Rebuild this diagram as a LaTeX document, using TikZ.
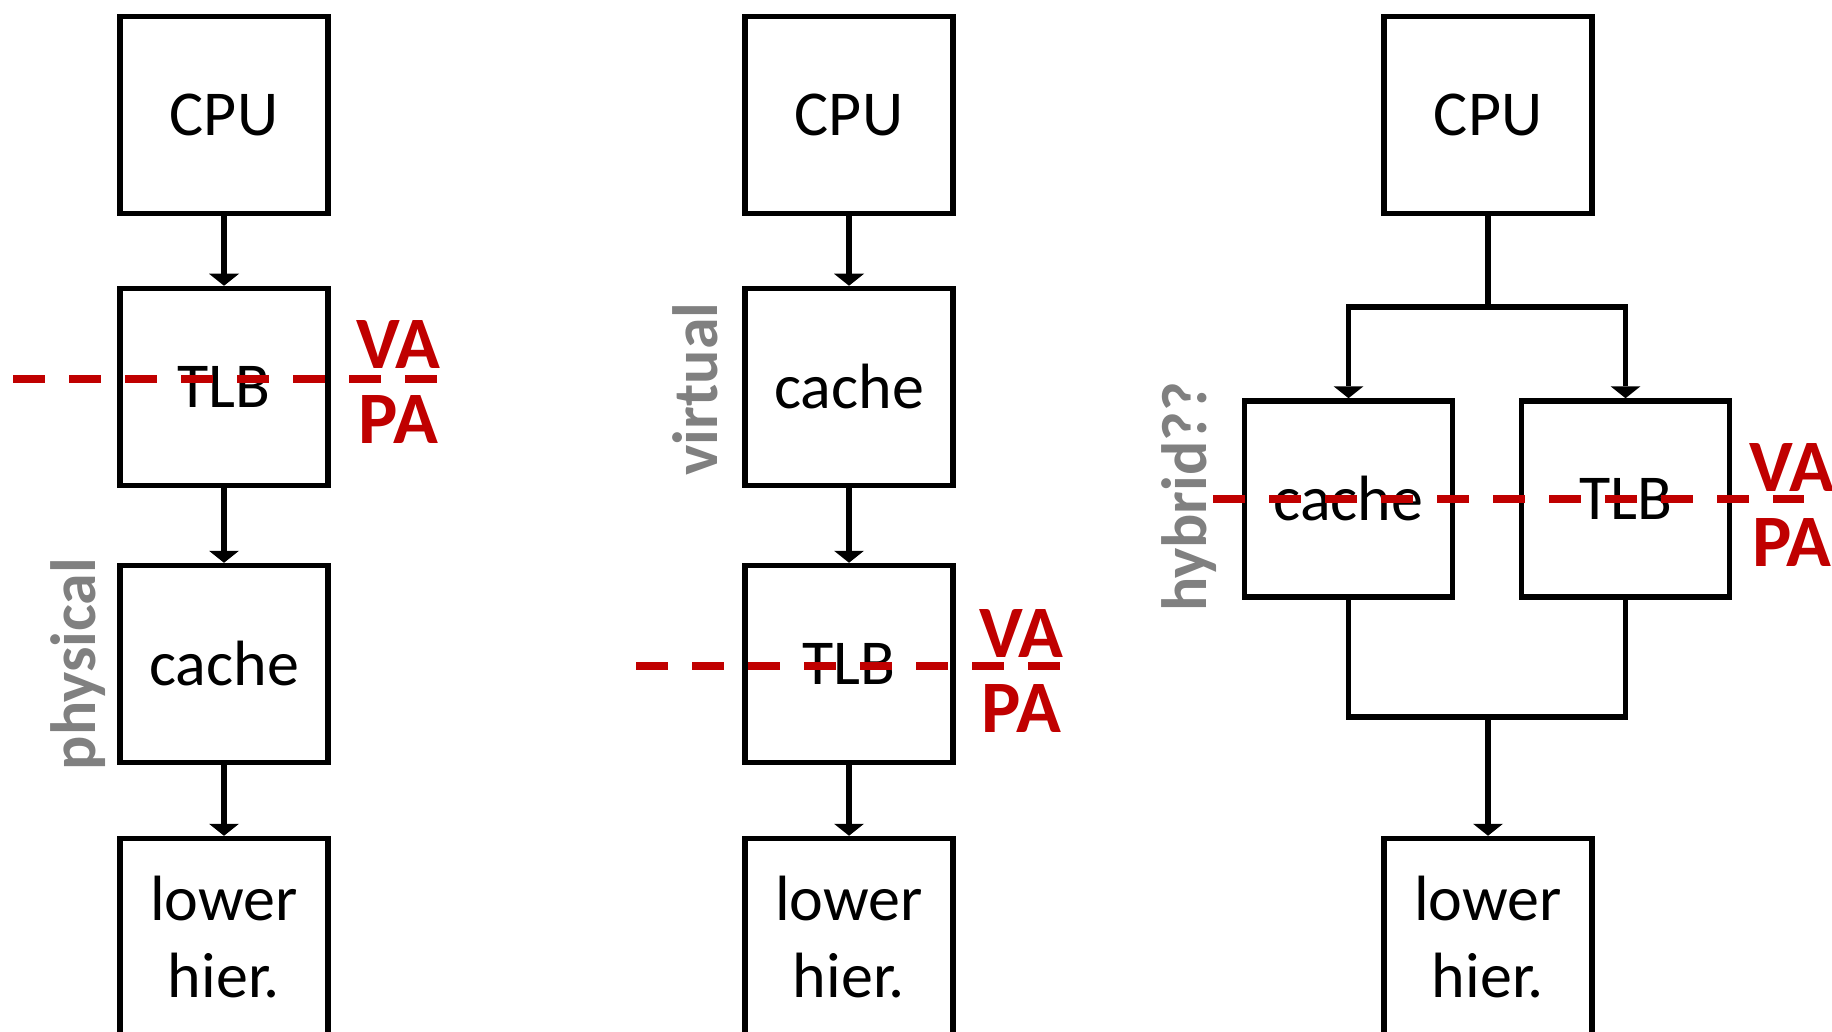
\documentclass[tikz,border=0pt]{standalone}
\usepackage{fontspec}
\setmainfont{Carlito}
\usetikzlibrary{arrows.meta}
\definecolor{vared}{HTML}{C00000}
\definecolor{sidegray}{HTML}{808080}
\tikzset{
  unit/.style={draw, line width=5.5pt, minimum width=208pt, minimum height=197pt,
    inner sep=0pt, align=center, font=\fontsize{64}{77}\selectfont},
  wire/.style={line width=5.5pt},
  feed/.style={wire, -{Triangle[width=30pt,length=12pt,line width=0pt]}},
  cut/.style={draw=vared, line width=8pt, dash pattern=on 32pt off 24pt},
  vapa/.style={text=vared, inner sep=0pt, align=center,
    font=\fontsize{74}{75}\selectfont\bfseries},
  kind/.style={text=sidegray, inner sep=0pt, rotate=90,
    font=\fontsize{64}{72}\selectfont\bfseries},
}
\begin{document}
\begin{tikzpicture}[x=1pt,y=-1pt]
\useasboundingbox (0,0) rectangle (1832,1032);
\begin{scope}[shift={(224,0)}]
\node[unit] (cpuA) at (0,115) {CPU};
\node[unit] (tlbA) at (0,387) {TLB};
\node[unit] (cacheA) at (0,664) {cache};
\node[unit] (lowA) at (0,937) {lower\\hier.};
\draw[feed] (cpuA) -- (tlbA);
\draw[feed] (tlbA) -- (cacheA);
\draw[feed] (cacheA) -- (lowA);
\draw[cut] (-211,379) -- (213,379);
\node[vapa] (vaA) at (174.5,382.5) {VA\\PA};
\node[kind] (kindA) at (-146,664) {physical};
\end{scope}
\begin{scope}[shift={(849,0)}]
\node[unit] (cpuB) at (0,115) {CPU};
\node[unit] (cacheB) at (0,387) {cache};
\node[unit] (tlbB) at (0,664) {TLB};
\node[unit] (lowB) at (0,937) {lower\\hier.};
\draw[feed] (cpuB) -- (cacheB);
\draw[feed] (cacheB) -- (tlbB);
\draw[feed] (tlbB) -- (lowB);
\draw[cut] (-213,666) -- (211,666);
\node[vapa] (vaB) at (172.5,671) {VA\\PA};
\node[kind] (kindB) at (-153.5,389) {virtual};
\end{scope}
\begin{scope}[shift={(1488,0)}]
\node[unit] (cpuC) at (0,115) {CPU};
\node[unit, minimum height=196pt] (cacheC) at (-139.5,499) {cache};
\node[unit, minimum height=196pt] (tlbC) at (137.5,499) {TLB};
\node[unit] (lowC) at (0,937) {lower\\hier.};
\coordinate (forkC) at (0,307);
\coordinate (joinC) at (0,717);
\draw[wire] (cpuC) -- (forkC);
\draw[feed] (forkC) -| (cacheC.north);
\draw[feed] (forkC) -| (tlbC.north);
\draw[wire] (cacheC.south) |- (joinC) -| (tlbC.south);
\draw[feed] (joinC) -- (lowC);
\draw[cut] (-275,499) -- (316,499);
\node[vapa] (vaC) at (304,505) {VA\\PA};
\node[kind] (kindC) at (-299,497) {hybrid??};
\end{scope}
\end{tikzpicture}
\end{document}
